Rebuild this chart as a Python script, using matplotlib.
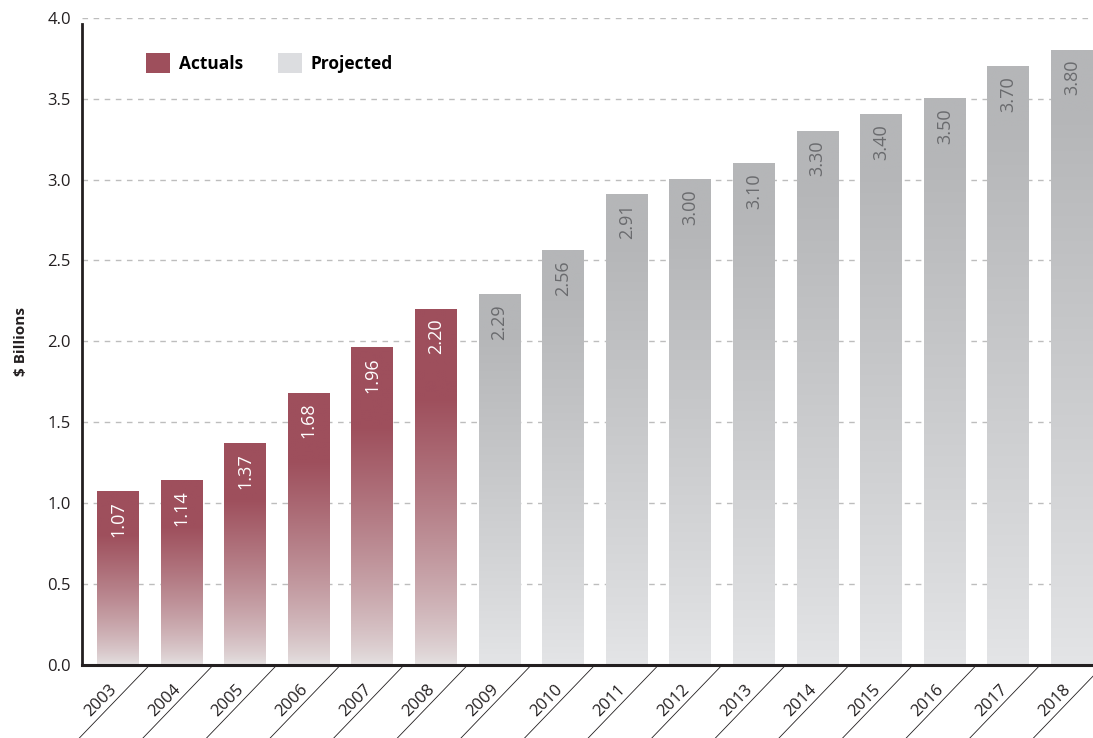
import numpy as np
import matplotlib.pyplot as plt
import matplotlib.transforms as mtrans
from matplotlib.patches import Patch
from matplotlib.colors import to_rgb

plt.rcParams['font.family'] = ['Open Sans', 'DejaVu Sans']

years = [str(y) for y in range(2003, 2019)]
values = [1.07, 1.14, 1.37, 1.68, 1.96, 2.20, 2.29, 2.56, 2.91, 3.00,
          3.10, 3.30, 3.40, 3.50, 3.70, 3.80]
labels = ["1.07", "1.14", "1.37", "1.68", "1.96", "2.20", "2.29", "2.56",
          "2.91", "3.00", "3.10", "3.30", "3.40", "3.50", "3.70", "3.80"]
n_actual = 6

ACT_TOP = np.array(to_rgb("#9e4f5c"))
ACT_BOT = np.array(to_rgb("#e6e3e3"))
PRJ_TOP = np.array(to_rgb("#b5b6b8"))
PRJ_BOT = np.array(to_rgb("#e4e5e7"))

fig = plt.figure(figsize=(10.93, 7.38), dpi=100)
ax = fig.add_axes([0.075, 0.099, 0.925, 0.877])

width = 0.66
for i, v in enumerate(values):
    f = np.linspace(0, 1, 256)[:, None]
    if i < n_actual:
        t = np.clip(f / 0.75, 0, 1) ** 0.75
        top, bot = ACT_TOP, ACT_BOT
    else:
        t = np.clip(f / 0.9, 0, 1) ** 0.9
        top, bot = PRJ_TOP, PRJ_BOT
    img = bot[None, None, :] + (top - bot)[None, None, :] * t[:, :, None]
    ax.imshow(img, extent=(i - width / 2, i + width / 2, 0, v),
              origin='lower', aspect='auto', zorder=2, interpolation='bilinear')
    ax.text(i, v - 0.06, labels[i], rotation=90, ha='center', va='top',
            fontsize=13, color='white' if i < n_actual else '#6a6b6e', zorder=3)

ax.set_xlim(-0.565, 15.33)
ax.set_ylim(0, 4.0)
ax.set_yticks(np.arange(0, 4.01, 0.5))
ax.set_yticklabels([f"{y:.1f}" for y in np.arange(0, 4.01, 0.5)], fontsize=12,
                   color='#231f20')
ax.yaxis.grid(True, ls=(0, (4, 4)), color='#bdbdbd', lw=1)
ax.set_axisbelow(True)
ax.tick_params(axis='y', length=0, pad=8)

ax.set_xticks(range(len(years)))
ax.set_xticklabels(years, rotation=45, ha='right', va='top',
                   rotation_mode='anchor', fontsize=12, color='#231f20')
ax.tick_params(axis='x', length=0, pad=12)
shift = mtrans.ScaledTranslation(-9 / 100, 0, fig.dpi_scale_trans)
for lbl in ax.get_xticklabels():
    lbl.set_transform(lbl.get_transform() + shift)

# diagonal separators below the axis
for i in range(len(years)):
    ax.annotate("", xy=(i + 0.5, 0), xycoords=ax.get_xaxis_transform(),
                xytext=(-52, -54), textcoords='offset points',
                arrowprops=dict(arrowstyle='-', lw=0.6, color='#231f20',
                                shrinkA=0, shrinkB=0), annotation_clip=False)

for s in ['top', 'right']:
    ax.spines[s].set_visible(False)
ax.spines['left'].set_color('#231f20')
ax.spines['left'].set_linewidth(2)
ax.spines['left'].set_bounds(0, 3.96)
ax.spines['bottom'].set_color('#231f20')
ax.spines['bottom'].set_linewidth(2.2)

ax.set_ylabel("$ Billions", fontsize=11, fontweight='bold', labelpad=14,
              color='#231f20')

handles = [Patch(facecolor="#9e4f5c", label="Actuals"),
           Patch(facecolor="#dcdde0", label="Projected")]
ax.legend(handles=handles, loc='upper left', bbox_to_anchor=(0.048, 0.97),
          ncol=2, frameon=False, handlelength=1.4, handleheight=1.4,
          handletextpad=0.5, columnspacing=2.0,
          prop={'weight': 'bold', 'size': 12.5})

fig.savefig("out.png", dpi=100)
